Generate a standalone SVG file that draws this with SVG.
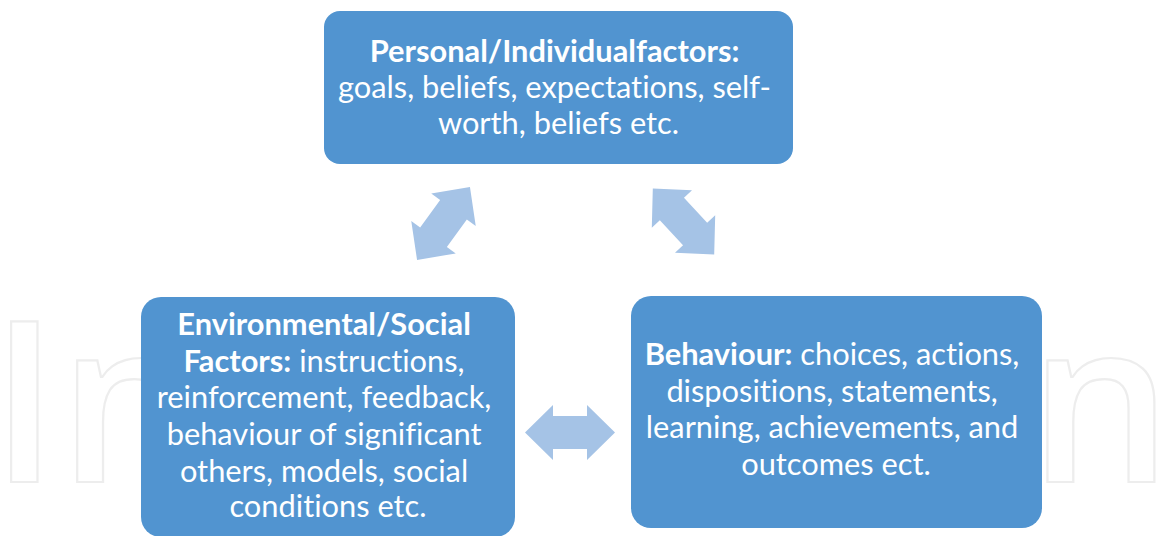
<svg xmlns="http://www.w3.org/2000/svg" xmlns:xlink="http://www.w3.org/1999/xlink" width="1165" height="536" viewBox="0 0 1165 536">
  <style>
    .box { fill: #5194d0; }
    .label { font-family: Lato, "Open Sans", "Liberation Sans", sans-serif; font-size: 30.8px; fill: #ffffff; text-anchor: middle; font-variant-ligatures: none; }
    .label .b { font-weight: bold; }
    .arrow { fill: #a5c3e6; }
    .wm { font-family: "Open Sans", "Liberation Sans", sans-serif; font-weight: 600; font-size: 225px; fill: none; stroke: #ededed; stroke-width: 2.2; }
  </style>
  <defs>
    <!-- double-headed block arrow, centred on the origin -->
    <polygon id="dbl" points="-45,0 -17,-27.5 -17,-16.5 17,-16.5 17,-27.5 45,0 17,27.5 17,16.5 -17,16.5 -17,27.5"/>
  </defs>
  <rect width="1165" height="536" fill="#ffffff"/>

  <!-- background wordmark, seen at both sides behind the boxes -->
  <g id="wordmark">
    <text class="wm" x="-10" y="482">In</text>
    <text class="wm" x="1172" y="482" text-anchor="end">en</text>
  </g>

  <g id="connectors" class="arrow">
    <use xlink:href="#dbl" href="#dbl" transform="translate(443.5,223.5) rotate(-54)"/>
    <use xlink:href="#dbl" href="#dbl" transform="translate(683.5,221.5) rotate(47)"/>
    <use xlink:href="#dbl" href="#dbl" transform="translate(570,432.5)"/>
  </g>

  <g id="personal">
    <rect class="box" x="324" y="11" width="469" height="153" rx="16"/>
    <text class="label">
      <tspan class="b" x="558.5" y="62">Personal/Individualfactors:</tspan>
      <tspan x="558.5" y="98">goals, beliefs, expectations, self-</tspan>
      <tspan x="558.5" y="134">worth, beliefs etc.</tspan>
    </text>
  </g>

  <g id="environmental">
    <rect class="box" x="141" y="297" width="374" height="240" rx="20"/>
    <text class="label">
      <tspan class="b" x="328" y="335">Environmental/Social</tspan>
      <tspan x="328" y="372"><tspan class="b">Factors:</tspan> instructions,</tspan>
      <tspan x="328" y="408">reinforcement, feedback,</tspan>
      <tspan x="328" y="445">behaviour of significant</tspan>
      <tspan x="328" y="482">others, models, social</tspan>
      <tspan x="328" y="517">conditions etc.</tspan>
    </text>
  </g>

  <g id="behaviour">
    <rect class="box" x="631" y="296" width="411" height="232" rx="20"/>
    <text class="label">
      <tspan x="836" y="365"><tspan class="b">Behaviour:</tspan> choices, actions,</tspan>
      <tspan x="836" y="402">dispositions, statements,</tspan>
      <tspan x="836" y="438">learning, achievements, and</tspan>
      <tspan x="836" y="475">outcomes ect.</tspan>
    </text>
  </g>
</svg>
